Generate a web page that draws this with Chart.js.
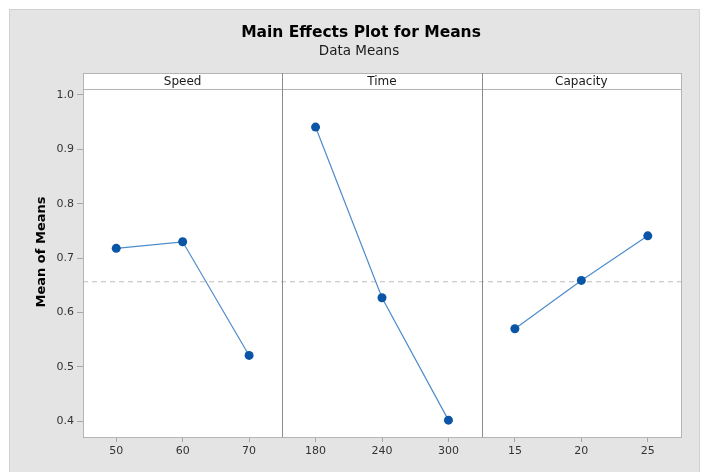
<!DOCTYPE html>
<html>
<head>
<meta charset="utf-8">
<script src="https://cdn.jsdelivr.net/npm/chart.js@4"></script>
<style>
  html, body { margin: 0; padding: 0; background: #ffffff; }
  #wrap { width: 703px; height: 472px; }
</style>
</head>
<body>
<div id="wrap"><canvas id="chart" width="703" height="472"></canvas></div>
<script>
// factors and their levels
const factorNames = ['Speed', 'Time', 'Capacity'];
const speedLevels = ['50', '60', '70'];
const timeLevels = ['180', '240', '300'];
const capacityLevels = ['15', '20', '25'];

// mean of means
const speedMeans = [0.718, 0.730, 0.521];
const timeMeans = [0.941, 0.627, 0.402];
const capacityMeans = [0.570, 0.659, 0.741];

const yTicks = [0.4, 0.5, 0.6, 0.7, 0.8, 0.9, 1.0];

const levels = [speedLevels, timeLevels, capacityLevels];
const means = [speedMeans, timeMeans, capacityMeans];

// each panel takes 6 units on the x scale, levels sit at 1, 3, 5 inside it
const PANEL = 6;
function xPos(panel, i) { return panel * PANEL + 1 + 2 * i; }

var allMeans = [].concat(speedMeans, timeMeans, capacityMeans);
var grandMean = allMeans.reduce((a, b) => a + b, 0) / allMeans.length;

var tickPositions = [];
var tickLabels = {};
levels.forEach((lv, p) => lv.forEach((l, i) => {
    tickPositions.push(xPos(p, i));
    tickLabels[xPos(p, i)] = l;
}));

const FONT = "'DejaVu Sans', sans-serif";
const dotColor = '#0a55a5';
const lineColor = '#4d8ccb';

var datasets = means.map((m, p) => ({
    label: factorNames[p],
    data: m.map((v, i) => ({ x: xPos(p, i), y: v })),
    borderColor: lineColor,
    borderWidth: 1.2,
    pointRadius: 4.5,
    pointBackgroundColor: dotColor,
    pointBorderColor: dotColor,
    pointBorderWidth: 0,
    tension: 0
}));
datasets.push({
    label: 'mean',
    data: [{ x: 0, y: grandMean }, { x: PANEL * 3, y: grandMean }],
    borderColor: '#bdbdbd',
    borderWidth: 1.2,
    borderDash: [5, 4],
    pointRadius: 0,
    order: 10
});

// background, frame, panel dividers, strip headers and titles
const decor = {
    id: 'decor',
    beforeDraw(chart) {
        const ctx = chart.ctx;
        const a = chart.chartArea;
        ctx.save();
        ctx.fillStyle = '#ffffff';
        ctx.fillRect(0, 0, chart.width, chart.height);
        ctx.fillStyle = '#e4e4e4';
        ctx.fillRect(9, 9, 691, chart.height - 9);
        ctx.strokeStyle = '#d2d2d2';
        ctx.lineWidth = 1;
        ctx.strokeRect(9.5, 9.5, 690, chart.height);
        ctx.fillStyle = '#ffffff';
        ctx.fillRect(a.left, a.top, a.right - a.left, a.bottom - a.top);
        ctx.restore();
    },
    afterDraw(chart) {
        const ctx = chart.ctx;
        const a = chart.chartArea;
        const xs = chart.scales.x;
        const stripTop = a.top - 16;
        ctx.save();
        // strip
        ctx.fillStyle = '#ffffff';
        ctx.fillRect(a.left, stripTop, a.right - a.left, 16);
        ctx.strokeStyle = '#b4b4b4';
        ctx.lineWidth = 1;
        ctx.strokeRect(Math.round(a.left) + 0.5, stripTop + 0.5, Math.round(a.right - a.left), Math.round(a.bottom - stripTop));
        ctx.beginPath();
        ctx.moveTo(a.left, a.top + 0.5);
        ctx.lineTo(a.right, a.top + 0.5);
        ctx.stroke();
        // panel dividers
        ctx.strokeStyle = '#8c8c8c';
        for (var p = 1; p < factorNames.length; p++) {
            var px = Math.round(xs.getPixelForValue(p * PANEL)) + 0.5;
            ctx.beginPath();
            ctx.moveTo(px, stripTop);
            ctx.lineTo(px, a.bottom);
            ctx.stroke();
        }
        // strip labels
        ctx.fillStyle = '#1a1a1a';
        ctx.font = '12px ' + FONT;
        ctx.textAlign = 'center';
        ctx.textBaseline = 'middle';
        factorNames.forEach((n, p) => {
            ctx.fillText(n, xs.getPixelForValue(p * PANEL + PANEL / 2), stripTop + 8.5);
        });
        // titles
        ctx.fillStyle = '#000000';
        ctx.font = 'bold 15.5px ' + FONT;
        ctx.fillText('Main Effects Plot for Means', 361, 33);
        ctx.fillStyle = '#1a1a1a';
        ctx.font = '13.5px ' + FONT;
        ctx.fillText('Data Means', 359, 51);
        // y title
        ctx.translate(42, 252);
        ctx.rotate(-Math.PI / 2);
        ctx.fillStyle = '#000000';
        ctx.font = 'bold 13px ' + FONT;
        ctx.fillText('Mean of Means', 0, 0);
        ctx.restore();
    }
};

new Chart(document.getElementById('chart'), {
    type: 'line',
    data: { datasets: datasets },
    plugins: [decor],
    options: {
        responsive: false,
        animation: false,
        layout: { padding: { top: 89, right: 22, left: 0, bottom: 0 } },
        plugins: {
            legend: { display: false },
            tooltip: { enabled: false }
        },
        scales: {
            x: {
                type: 'linear',
                min: 0,
                max: PANEL * 3,
                afterBuildTicks: (s) => { s.ticks = tickPositions.map(v => ({ value: v })); },
                afterFit: (s) => { s.height = 35; },
                border: { display: false },
                grid: { drawOnChartArea: false, tickLength: 5, color: '#a8a8a8' },
                ticks: {
                    padding: 3,
                    autoSkip: false,
                    maxRotation: 0,
                    color: '#333333',
                    font: { family: FONT, size: 11 },
                    callback: (v) => tickLabels[v]
                }
            },
            y: {
                min: 0.371,
                max: 1.011,
                afterBuildTicks: (s) => { s.ticks = yTicks.map(v => ({ value: v })); },
                afterFit: (s) => { s.width = 83; },
                border: { display: false },
                grid: { drawOnChartArea: false, tickLength: 6, color: '#a8a8a8' },
                ticks: {
                    padding: 3,
                    color: '#333333',
                    font: { family: FONT, size: 11 },
                    callback: (v) => v.toFixed(1)
                }
            }
        }
    }
});
</script>
</body>
</html>
